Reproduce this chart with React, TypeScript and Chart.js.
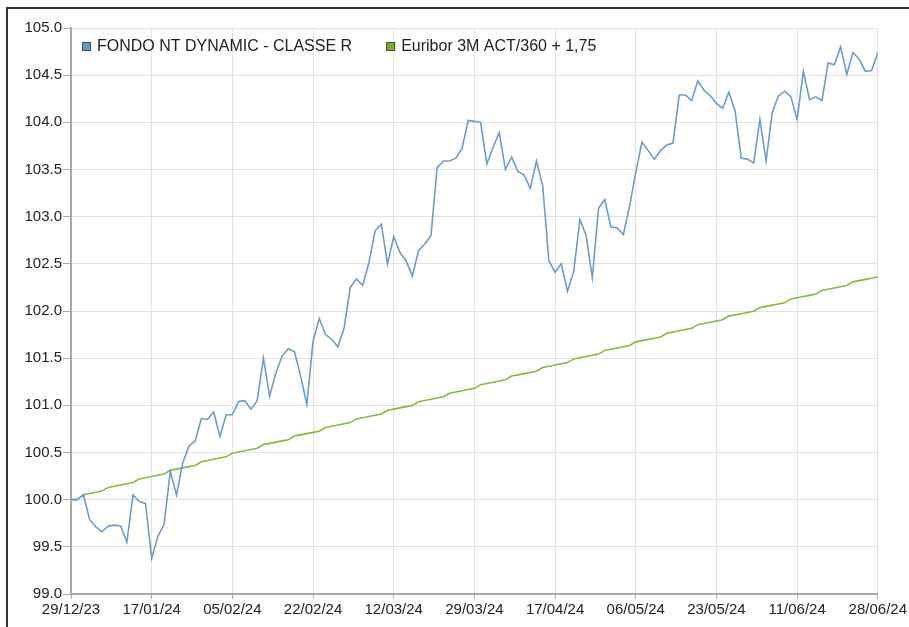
import React, { useEffect, useRef } from "react";
import { Chart, registerables } from "chart.js";

Chart.register(...registerables);

// ---- data ----
const startDate = "2023-12-29"; // first business day shown
const pointCount = 131; // business days 29/12/23 .. 28/06/24
const tickEvery = 13; // a labelled tick every 13 business days

const fundLabel = "FONDO NT DYNAMIC - CLASSE R";
const benchLabel = "Euribor 3M ACT/360 + 1,75";

const fundValues = [
  100.0, 100.0, 100.05, 99.79, 99.71, 99.66, 99.72, 99.73, 99.72, 99.55,
  100.05, 99.98, 99.96, 99.38, 99.61, 99.74, 100.3, 100.05, 100.39, 100.57,
  100.62, 100.86, 100.85, 100.93, 100.67, 100.9, 100.9, 101.04, 101.05, 100.96,
  101.05, 101.5, 101.1, 101.34, 101.52, 101.6, 101.57, 101.31, 101.01, 101.68,
  101.92, 101.75, 101.7, 101.62, 101.82, 102.25, 102.34, 102.27, 102.51, 102.85,
  102.92, 102.5, 102.79, 102.62, 102.53, 102.37, 102.64, 102.71, 102.8, 103.52,
  103.59, 103.59, 103.62, 103.72, 104.02, 104.01, 104.0, 103.56, 103.73, 103.89,
  103.5, 103.63, 103.48, 103.44, 103.3, 103.59, 103.33, 102.53, 102.41, 102.5,
  102.21, 102.42, 102.97, 102.8, 102.35, 103.09, 103.18, 102.89, 102.88, 102.81,
  103.11, 103.47, 103.79, 103.7, 103.61, 103.7, 103.76, 103.78, 104.29, 104.29,
  104.23, 104.44, 104.34, 104.28, 104.2, 104.15, 104.32, 104.12, 103.62, 103.61,
  103.57, 104.03, 103.59, 104.11, 104.28, 104.33, 104.27, 104.03, 104.54, 104.24,
  104.27, 104.23, 104.63, 104.61, 104.8, 104.51, 104.74, 104.67, 104.54, 104.55,
  104.74,
];

const benchValues = [
  100.0,
  100.0, 100.052, 100.065, 100.078, 100.091,
  100.13, 100.143, 100.156, 100.169, 100.182,
  100.22, 100.233, 100.246, 100.259, 100.272,
  100.311, 100.324, 100.337, 100.35, 100.363,
  100.402, 100.415, 100.428, 100.441, 100.454,
  100.493, 100.506, 100.519, 100.532, 100.545,
  100.584, 100.597, 100.61, 100.623, 100.636,
  100.674, 100.687, 100.7, 100.713, 100.726,
  100.765, 100.778, 100.791, 100.804, 100.817,
  100.856, 100.869, 100.882, 100.895, 100.908,
  100.947, 100.96, 100.973, 100.986, 100.999,
  101.038, 101.051, 101.064, 101.077, 101.09,
  101.128, 101.141, 101.154, 101.167, 101.18,
  101.219, 101.232, 101.245, 101.258, 101.271,
  101.31, 101.323, 101.336, 101.349, 101.362,
  101.401, 101.414, 101.427, 101.44, 101.453,
  101.492, 101.505, 101.518, 101.53, 101.543,
  101.582, 101.595, 101.608, 101.621, 101.634,
  101.673, 101.686, 101.699, 101.712, 101.725,
  101.764, 101.777, 101.79, 101.803, 101.816,
  101.855, 101.868, 101.881, 101.894, 101.907,
  101.946, 101.959, 101.971, 101.984, 101.997,
  102.036, 102.049, 102.062, 102.075, 102.088,
  102.127, 102.14, 102.153, 102.166, 102.179,
  102.218, 102.231, 102.244, 102.257, 102.27,
  102.309, 102.322, 102.335, 102.348, 102.361,
];

const yMin = 99;
const yMax = 105;
const yStep = 0.5;

// ---- helpers ----
function businessDayLabels(start: string, count: number): string[] {
  const out: string[] = [];
  const d = new Date(start + "T00:00:00Z");
  while (out.length < count) {
    const wd = d.getUTCDay();
    if (wd !== 0 && wd !== 6) {
      const dd = String(d.getUTCDate()).padStart(2, "0");
      const mm = String(d.getUTCMonth() + 1).padStart(2, "0");
      const yy = String(d.getUTCFullYear() % 100).padStart(2, "0");
      out.push(`${dd}/${mm}/${yy}`);
    }
    d.setUTCDate(d.getUTCDate() + 1);
  }
  return out;
}

const categories = businessDayLabels(startDate, pointCount);

const FONT = "'Liberation Sans', Arial, Helvetica, sans-serif";
const BLUE = "#6a9bd3";
const GREEN = "#86b83c";
const BLUE_BOX = "#5f97d2";
const GREEN_BOX = "#76b21e";

const insideLegend = {
  id: "insideLegend",
  afterDatasetsDraw(chart: any) {
    const { ctx, chartArea } = chart;
    const items = [
      { text: fundLabel, fill: BLUE_BOX },
      { text: benchLabel, fill: GREEN_BOX },
    ];
    ctx.save();
    ctx.font = `16px ${FONT}`;
    ctx.textBaseline = "middle";
    ctx.textAlign = "left";
    let x = chartArea.left + 11;
    const yc = chartArea.top + 18.5;
    items.forEach((it) => {
      ctx.fillStyle = it.fill;
      ctx.fillRect(x, yc - 4.5, 9, 9);
      ctx.strokeStyle = "#4a4a4a";
      ctx.lineWidth = 1;
      ctx.strokeRect(x + 0.5, yc - 4, 8, 8);
      ctx.fillStyle = "#222";
      ctx.fillText(it.text, x + 15, yc);
      x += 15 + ctx.measureText(it.text).width + 34;
    });
    ctx.restore();
  },
};

export default function App() {
  const canvasRef = useRef<HTMLCanvasElement | null>(null);

  useEffect(() => {
    if (!canvasRef.current) return;
    const last = categories.length - 1;
    const chart = new Chart(canvasRef.current, {
      type: "line",
      data: {
        labels: categories,
        datasets: [
          {
            label: fundLabel,
            data: fundValues,
            borderColor: BLUE,
            backgroundColor: BLUE_BOX,
            borderWidth: 1.6,
            pointRadius: 0,
            tension: 0,
            fill: false,
          },
          {
            label: benchLabel,
            data: benchValues,
            borderColor: GREEN,
            backgroundColor: GREEN_BOX,
            borderWidth: 1.6,
            pointRadius: 0,
            tension: 0,
            fill: false,
          },
        ],
      },
      options: {
        animation: false,
        responsive: false,
        maintainAspectRatio: false,
        layout: { padding: { top: 19, right: 31, bottom: 0, left: 0 } },
        plugins: {
          legend: { display: false },
          tooltip: { enabled: false },
        },
        scales: {
          x: {
            type: "category",
            offset: false,
            border: { color: "#a8a8a8", width: 2 },
            grid: {
              color: (c: any) =>
                c.index === last ? "rgba(0,0,0,0)" : "#e2e2e2",
              lineWidth: 1,
              drawTicks: true,
              tickLength: 5,
              tickColor: "#a8a8a8",
            },
            ticks: {
              autoSkip: false,
              maxRotation: 0,
              minRotation: 0,
              padding: 2,
              color: "#222",
              font: { family: FONT, size: 15 },
              callback: (_v: any, i: number) =>
                i % tickEvery === 0 ? categories[i] : null,
            },
            afterFit: (s: any) => {
              s.height = 33;
            },
          },
          y: {
            min: yMin,
            max: yMax,
            border: { color: "#a8a8a8", width: 2 },
            grid: {
              color: "#e2e2e2",
              lineWidth: 1,
              drawTicks: true,
              tickLength: 8,
              tickColor: "#a8a8a8",
            },
            ticks: {
              stepSize: yStep,
              padding: 1,
              color: "#222",
              font: { family: FONT, size: 15 },
              callback: (v: any) => Number(v).toFixed(1),
            },
            afterFit: (s: any) => {
              s.width = 63;
            },
          },
        },
      },
      plugins: [insideLegend],
    });
    return () => chart.destroy();
  }, []);

  return (
    <div
      style={{
        position: "absolute",
        left: 6,
        top: 7,
        width: 903,
        height: 620,
        boxSizing: "border-box",
        borderTop: "2px solid #333",
        borderLeft: "2px solid #333",
        background: "#fff",
        overflow: "hidden",
      }}
    >
      <canvas ref={canvasRef} width={901} height={618} style={{ display: "block" }} />
    </div>
  );
}
